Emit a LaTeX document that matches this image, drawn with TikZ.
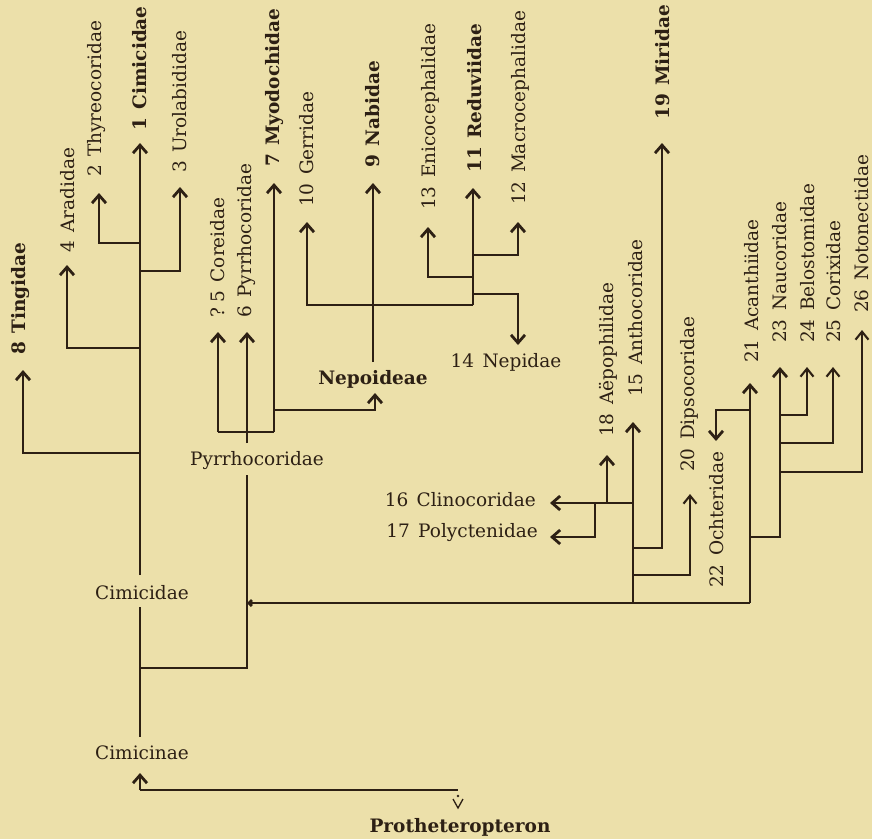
\documentclass[tikz,border=0pt]{standalone}
\usepackage{fontspec}
\setmainfont{DejaVu Serif}
\usetikzlibrary{arrows.meta}
\definecolor{paper}{RGB}{236,224,170}
\definecolor{ink}{RGB}{45,32,20}
\newcommand\gp{\hspace{0.45em}}
\begin{document}
\begin{tikzpicture}[x=1pt,y=-1pt,
  ln/.style={draw=ink,line width=2.8pt},
  thn/.style={draw=ink,line width=2.1pt},
  arr/.style={ln,-{Straight Barb[length=8pt,width=14pt]}},
  tarr/.style={thn,-{Straight Barb[length=8pt,width=13pt]}},
  lbl/.style={text=ink,inner sep=0pt,font=\fontsize{18.5}{20}\selectfont},
  blbl/.style={lbl,font=\fontsize{18.5}{20}\selectfont\bfseries},
  vl/.style={lbl,rotate=90,anchor=west},
  bvl/.style={blbl,rotate=90,anchor=west}
]
\fill[paper] (0,0) rectangle (872,839);
\useasboundingbox (0,0) rectangle (872,839);

% ---------- coordinates ----------
\path
 (140,143) coordinate (t1)
 (140,575) coordinate (k1)
 (140,607) coordinate (k2)
 (140,737) coordinate (k3)
 (140,773) coordinate (k4)
 (140,790) coordinate (k5)
 (458,790) coordinate (k6)
 (140,243) coordinate (j2)  (99,193)  coordinate (t2)
 (140,271) coordinate (j3)  (180,187) coordinate (t3)
 (140,348) coordinate (j4)  (67,265)  coordinate (t4)
 (140,453) coordinate (j8)  (23,370)  coordinate (t8)
 (140,668) coordinate (j6)  (247,475) coordinate (p1)
 (247,443) coordinate (p2)  (247,332) coordinate (t6)
 (218,432) coordinate (p3)  (218,332) coordinate (t5)
 (274,432) coordinate (p4)  (274,183) coordinate (t7)
 (274,410) coordinate (q1)  (375,393) coordinate (tn)
 (373,362) coordinate (q2)  (373,183) coordinate (t9)
 (473,305) coordinate (r0)  (307,222) coordinate (t10)
 (473,188) coordinate (t11)
 (473,277) coordinate (r13) (428,227) coordinate (t13)
 (473,255) coordinate (r12) (518,222) coordinate (t12)
 (473,294) coordinate (r14) (518,345) coordinate (t14)
 (247,603) coordinate (m0)  (750,603) coordinate (m1)
 (750,383) coordinate (t21)
 (750,410) coordinate (a22) (716,441) coordinate (t22)
 (750,537) coordinate (a23) (780,367) coordinate (t23)
 (780,415) coordinate (a24) (807,367) coordinate (t24)
 (780,443) coordinate (a25) (833,367) coordinate (t25)
 (780,472) coordinate (a26) (862,330) coordinate (t26)
 (633,603) coordinate (h0)  (633,422) coordinate (t15)
 (633,503) coordinate (h16) (550,503) coordinate (t16)
 (607,503) coordinate (h18) (607,455) coordinate (t18)
 (595,503) coordinate (h17) (550,537) coordinate (t17)
 (633,548) coordinate (h19) (662,143) coordinate (t19)
 (633,575) coordinate (h20) (690,494) coordinate (t20);

% ---------- horizontal labels ----------
\node[lbl] (cimicidae) at (142,593) {Cimicidae};
\node[lbl] (cimicinae) at (142,753) {Cimicinae};
\node[lbl] (pyrrh) at (257,461) {Pyrrhocoridae};
\node[blbl] (nepoid) at (373,379) {Nepoideae};
\node[lbl] (L14) at (506,362) {14\gp Nepidae};
\node[lbl,anchor=east] (L16) at (536,500) {16\gp Clinocoridae};
\node[lbl,anchor=east] (L17) at (538,533) {17\gp Polyctenidae};
\node[blbl] (proth) at (460,827) {Protheteropteron};

% ---------- vertical labels ----------
\node[bvl] (L8)  at (21,355)  {8\gp Tingidae};
\node[vl]  (L4)  at (68,253)  {4\gp Aradidae};
\node[vl]  (L2)  at (97,177)  {2\gp Thyreocoridae};
\node[bvl] (L1)  at (140,131) {1\gp Cimicidae};
\node[vl]  (L3)  at (180,173) {3\gp Urolabididae};
\node[vl]  (L5)  at (218,318) {?\hspace{0.3em}5\gp Coreidae};
\node[vl]  (L6)  at (247,318) {6\gp Pyrrhocoridae};
\node[bvl] (L7)  at (275,167) {7\gp Myodochidae};
\node[vl]  (L10) at (307,207) {10\gp Gerridae};
\node[bvl] (L9)  at (373,168) {9\gp Nabidae};
\node[vl]  (L13) at (430,210) {13\gp Enicocephalidae};
\node[bvl] (L11) at (475,173) {11\gp Reduviidae};
\node[vl]  (L12) at (520,205) {12\gp Macrocephalidae};
\node[bvl] (L19) at (663,120) {19\gp Miridae};
\node[vl]  (L18) at (608,437) {18\gp Aëpophilidae};
\node[vl]  (L15) at (636,397) {15\gp Anthocoridae};
\node[vl]  (L20) at (689,472) {20\gp Dipsocoridae};
\node[vl]  (L22) at (717,588) {22\gp Ochteridae};
\node[vl]  (L21) at (752,363) {21\gp Acanthiidae};
\node[vl]  (L23) at (780,343) {23\gp Naucoridae};
\node[vl]  (L24) at (808,343) {24\gp Belostomidae};
\node[vl]  (L25) at (834,343) {25\gp Corixidae};
\node[vl]  (L26) at (862,313) {26\gp Notonectidae};

% ---------- Cimicidae trunk ----------
\draw[arr] (k1) -- (t1);
\draw[ln] (k2) -- (k3);
\draw[arr] (k5) -- (k4);
\draw[ln] (k5) -- (k6);
\draw[thn,line width=1.3pt] (453,799) -- (458,808) -- (463,799);
\fill[ink] (458,796) circle (1.3pt);
\draw[arr] (j2) -| (t2);
\draw[arr] (j3) -| (t3);
\draw[arr] (j4) -| (t4);
\draw[arr] (j8) -| (t8);

% ---------- Pyrrhocoridae ----------
\draw[ln] (j6) -| (p1);
\draw[arr] (p2) -- (t6);
\draw[ln] (p3) -- (p4);
\draw[arr] (p3) -- (t5);
\draw[arr] (p4) -- (t7);
\draw[arr] (q1) -| (tn);
\draw[arr] (q2) -- (t9);
\draw[arr] (r0) -| (t10);
\draw[arr] (r0) -- (t11);
\draw[arr] (r13) -| (t13);
\draw[arr] (r12) -| (t12);
\draw[arr] (r14) -| (t14);

% ---------- right group ----------
\draw[ln,{Straight Barb[length=3pt,width=6pt]}-] (m0) -- (m1);
\draw[arr] (m1) -- (t21);
\draw[arr] (a22) -| (t22);
\draw[arr] (a23) -| (t23);
\draw[tarr] (a24) -| (t24);
\draw[tarr] (a25) -| (t25);
\draw[tarr] (a26) -| (t26);
\draw[arr] (h0) -- (t15);
\draw[arr] (h16) -- (t16);
\draw[arr] (h18) -- (t18);
\draw[arr] (h17) |- (t17);
\draw[arr] (h19) -| (t19);
\draw[tarr] (h20) -| (t20);
\end{tikzpicture}
\end{document}
